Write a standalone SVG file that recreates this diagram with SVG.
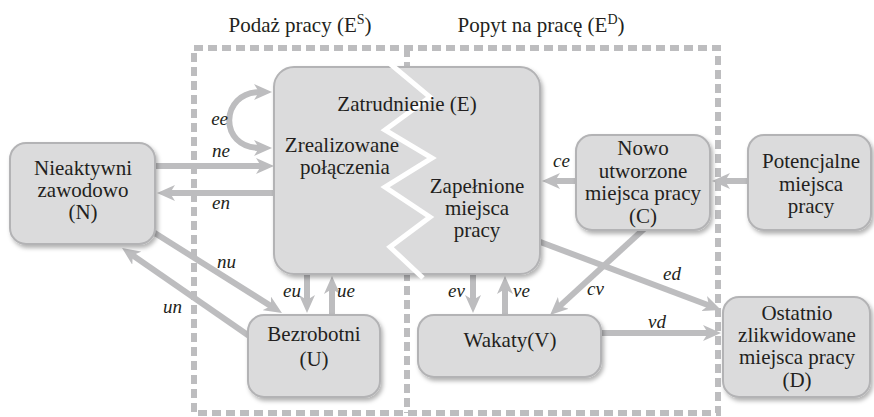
<svg xmlns="http://www.w3.org/2000/svg" width="874" height="417" viewBox="0 0 874 417" font-family="Liberation Serif, DejaVu Serif, Times New Roman, serif">
<defs>
<filter id="sh" x="-10%" y="-10%" width="125%" height="130%">
<feDropShadow dx="2" dy="3" stdDeviation="2" flood-color="#000" flood-opacity="0.3"/>
</filter>
<marker id="ah" viewBox="0 0 18 16" markerWidth="18" markerHeight="16" markerUnits="userSpaceOnUse" refX="6" refY="8" orient="auto-start-reverse">
<path d="M0,0 L18,8 L0,16 L5,8 Z" fill="#bdbdbf"/>
</marker>
</defs>
<rect width="874" height="417" fill="#ffffff"/>

<g id="frames" fill="none" stroke="#bdbdbf" stroke-width="6" stroke-dasharray="9 5">
<rect x="194" y="48" width="524" height="365"/>
<line x1="407" y1="48" x2="407" y2="413"/>
</g>
<g id="headers" style="font-family:'Liberation Serif','DejaVu Serif',serif" font-size="21" fill="#231f20" text-anchor="middle">
<text x="300" y="32">Podaż pracy (E<tspan font-size="14" dy="-8">S</tspan><tspan dy="8">)</tspan></text>
<text x="541" y="32">Popyt na pracę (E<tspan font-size="14" dy="-8">D</tspan><tspan dy="8">)</tspan></text>
</g>

<g id="connectors" fill="none" stroke="#bdbdbf" stroke-width="6" marker-end="url(#ah)">
<path d="M260,92 C220,92 218,148 260,148" marker-start="url(#ah)"/>
<path d="M155,166 L262,166"/>
<path d="M274,193 L169,193"/>
<path d="M150,230 L271.8,306.6"/>
<path d="M255,340 L131.9,254.8"/>
<path d="M307,272 L307,301"/>
<path d="M332,317 L332,288"/>
<path d="M473,272 L473,301"/>
<path d="M505,317 L505,288"/>
<path d="M578,181 L554,181"/>
<path d="M750,181 L724,181"/>
<path d="M535,240 L709.8,305.7"/>
<path d="M645,228 L558.9,306.9"/>
<path d="M598,333 L709,333"/>
</g>
<g id="connector-labels" style="font-family:'Liberation Serif','DejaVu Serif',serif" font-style="italic" font-size="19" fill="#231f20">
<text x="228" y="125" text-anchor="end">ee</text>
<text x="212" y="157">ne</text>
<text x="212" y="209">en</text>
<text x="217" y="268">nu</text>
<text x="163" y="313">un</text>
<text x="283" y="297">eu</text>
<text x="337" y="297">ue</text>
<text x="448" y="297">ev</text>
<text x="513" y="297">ve</text>
<text x="553" y="167">ce</text>
<text x="663" y="280">ed</text>
<text x="587" y="295">cv</text>
<text x="648" y="328">vd</text>
</g>

<g id="node-N" style="font-family:'Liberation Serif','DejaVu Serif',serif" font-size="21" text-anchor="middle" fill="#231f20">
<rect x="10" y="143" width="145" height="101" rx="16" fill="#dbdbdc" stroke="#b3b3b5" stroke-width="2" filter="url(#sh)"/>
<text x="83" y="175">Nieaktywni</text>
<text x="83" y="197">zawodowo</text>
<text x="83" y="219">(N)</text>
</g>

<g id="node-E" style="font-family:'Liberation Serif','DejaVu Serif',serif" font-size="21" text-anchor="middle" fill="#231f20">
<rect x="274" y="67" width="266" height="207" rx="20" fill="#dbdbdc" stroke="#b3b3b5" stroke-width="2" filter="url(#sh)"/>
<polyline points="388,62 430,97 385,130 432,158 385,187 430,217 390,247 423,278" fill="none" stroke="#ffffff" stroke-width="5"/>
<text x="407" y="111">Zatrudnienie (E)</text>
<text x="342" y="152">Zrealizowane</text>
<text x="345" y="174">połączenia</text>
<text x="477" y="193">Zapełnione</text>
<text x="477" y="215">miejsca</text>
<text x="477" y="237">pracy</text>
</g>

<g id="node-U" style="font-family:'Liberation Serif','DejaVu Serif',serif" font-size="21" text-anchor="middle" fill="#231f20">
<rect x="248" y="315" width="132" height="82" rx="16" fill="#dbdbdc" stroke="#b3b3b5" stroke-width="2" filter="url(#sh)"/>
<text x="314" y="341">Bezrobotni</text>
<text x="314" y="366">(U)</text>
</g>

<g id="node-V" style="font-family:'Liberation Serif','DejaVu Serif',serif" font-size="21" text-anchor="middle" fill="#231f20">
<rect x="418" y="315" width="183" height="62" rx="16" fill="#dbdbdc" stroke="#b3b3b5" stroke-width="2" filter="url(#sh)"/>
<text x="510" y="347">Wakaty(V)</text>
</g>

<g id="node-C" style="font-family:'Liberation Serif','DejaVu Serif',serif" font-size="21" text-anchor="middle" fill="#231f20">
<rect x="576" y="135" width="134" height="95" rx="16" fill="#dbdbdc" stroke="#b3b3b5" stroke-width="2" filter="url(#sh)"/>
<text x="643" y="155">Nowo</text>
<text x="643" y="178">utworzone</text>
<text x="643" y="200">miejsca pracy</text>
<text x="643" y="223">(C)</text>
</g>

<g id="node-P" style="font-family:'Liberation Serif','DejaVu Serif',serif" font-size="21" text-anchor="middle" fill="#231f20">
<rect x="748" y="135" width="123" height="95" rx="16" fill="#dbdbdc" stroke="#b3b3b5" stroke-width="2" filter="url(#sh)"/>
<text x="811" y="168">Potencjalne</text>
<text x="811" y="191">miejsca</text>
<text x="811" y="213">pracy</text>
</g>

<g id="node-D" style="font-family:'Liberation Serif','DejaVu Serif',serif" font-size="21" text-anchor="middle" fill="#231f20">
<rect x="723" y="297" width="147" height="100" rx="16" fill="#dbdbdc" stroke="#b3b3b5" stroke-width="2" filter="url(#sh)"/>
<text x="797" y="320">Ostatnio</text>
<text x="797" y="342">zlikwidowane</text>
<text x="797" y="364">miejsca pracy</text>
<text x="797" y="387">(D)</text>
</g>
</svg>
